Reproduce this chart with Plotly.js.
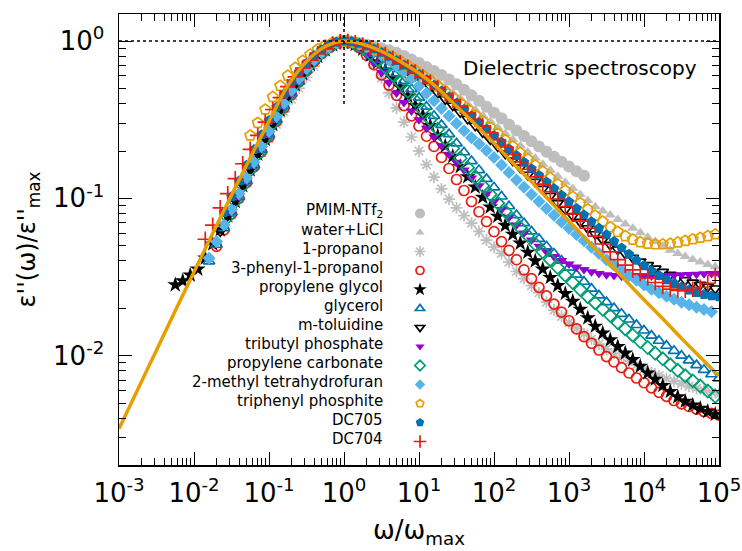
<!DOCTYPE html>
<html><head><meta charset="utf-8">
<script src="https://cdn.plot.ly/plotly-3.0.1.min.js"></script>
<style>html,body{margin:0;padding:0;background:#fff}</style>
</head><body><div id="chart" style="width:742px;height:551px"></div>
<script>
// log10(omega/omega_max) measurement grids
const logGridA = [-2.3,-2.2,-2.1,-2.0,-1.9,-1.8,-1.7,-1.6,-1.5,-1.4,-1.3,-1.2,-1.1,-1.0,-0.9,-0.8,-0.7,-0.6,-0.5,-0.4,-0.3,-0.2,-0.1,0.0,
  0.1,0.2,0.3,0.4,0.5,0.6,0.7,0.8,0.9,1.0,1.1,1.2,1.3,1.4,1.5,1.6,1.7,1.8,1.9,2.0,2.1,2.2,2.3,2.4,2.5,2.6,2.7,2.8,2.9,3.0,
  3.1,3.2,3.3,3.4,3.5,3.6,3.7,3.8,3.9,4.0,4.1,4.2,4.3,4.4,4.5,4.6,4.7,4.8,4.9,5.0];
const logGridB = [-2.25,-2.15,-2.05,-1.95,-1.85,-1.75,-1.65,-1.55,-1.45,-1.35,-1.25,-1.15,-1.05,-0.95,-0.85,-0.75,-0.65,-0.55,-0.45,-0.35,-0.25,-0.15,-0.05,
  0.05,0.15,0.25,0.35,0.45,0.55,0.65,0.75,0.85,0.95,1.05,1.15,1.25,1.35,1.45,1.55,1.65,1.75,1.85,1.95,2.05,2.15,2.25,2.35,2.45,2.55,2.65,2.75,2.85,2.95,
  3.05,3.15,3.25,3.35,3.45,3.55,3.65,3.75,3.85,3.95,4.05,4.15,4.25,4.35,4.45,4.55,4.65,4.75,4.85,4.95];

// log10(eps''/eps''_max) per liquid
const pmimY = [-0.55,-0.46,-0.375,-0.295,-0.22,-0.155,-0.10,-0.06,-0.03,-0.01,0,
  -0.004,-0.012,-0.022,-0.033,-0.045,-0.058,-0.075,-0.095,-0.117,-0.14,-0.165,-0.19,-0.215,-0.245,-0.275,-0.31,-0.345,-0.38,-0.418,-0.455,
  -0.49,-0.53,-0.568,-0.603,-0.637,-0.67,-0.703,-0.735,-0.767,-0.797,-0.827,-0.856];
const waterY = [-0.53,-0.44,-0.355,-0.28,-0.21,-0.15,-0.1,-0.058,-0.026,-0.005,
  -0.003,-0.012,-0.025,-0.04,-0.057,-0.076,-0.097,-0.12,-0.145,-0.172,-0.2,-0.23,-0.262,-0.295,-0.329,-0.364,-0.4,-0.437,-0.474,-0.512,
  -0.55,-0.588,-0.626,-0.665,-0.705,-0.744,-0.783,-0.821,-0.86,-0.898,-0.937,-0.975,-1.014,-1.053,-1.08,-1.106,-1.135,-1.163,-1.19,-1.218,
  -1.247,-1.275,-1.303,-1.33,-1.35,-1.37,-1.388,-1.405,-1.42,-1.435];
const propanolY = [-1.10,-1.0,-0.90,-0.80,-0.71,-0.62,-0.53,-0.45,-0.37,-0.30,-0.23,-0.16,-0.09,-0.045,-0.013,0,
  -0.012,-0.042,-0.09,-0.15,-0.235,-0.33,-0.425,-0.515,-0.61,-0.70,-0.785,-0.865,-0.94,-1.005,-1.06,-1.11,-1.158,-1.21,-1.265,-1.31,
  -1.35,-1.405,-1.465,-1.51,-1.555,-1.6,-1.66,-1.71,-1.75,-1.79,-1.827,-1.862,-1.895,-1.927,-1.957,-1.985,-2.01,-2.035,-2.06,-2.085,
  -2.107,-2.127,-2.145,-2.162,-2.178,-2.193,-2.207,-2.22,-2.232,-2.245];
const phenylY = [-1.305,-1.2,-1.1,-1.0,-0.9,-0.8,-0.705,-0.61,-0.51,-0.425,-0.34,-0.26,-0.19,-0.13,-0.08,-0.042,-0.013,0,
  -0.012,-0.042,-0.09,-0.15,-0.215,-0.28,-0.345,-0.41,-0.475,-0.54,-0.605,-0.67,-0.74,-0.81,-0.88,-0.95,-1.02,-1.085,-1.148,-1.212,
  -1.275,-1.33,-1.39,-1.454,-1.51,-1.566,-1.62,-1.672,-1.723,-1.778,-1.83,-1.879,-1.921,-1.964,-2.006,-2.04,-2.076,-2.11,-2.142,-2.172,
  -2.205,-2.233,-2.259,-2.285,-2.306,-2.323,-2.34,-2.355,-2.367,-2.378];
const pgY = [-1.55,-1.525,-1.488,-1.45,-1.38,-1.29,-1.2,-1.11,-1.02,-0.92,-0.82,-0.72,-0.625,-0.53,-0.44,-0.355,-0.278,-0.208,-0.148,-0.098,-0.057,-0.025,-0.005,
  -0.004,-0.022,-0.052,-0.09,-0.135,-0.185,-0.238,-0.293,-0.35,-0.41,-0.472,-0.538,-0.603,-0.668,-0.733,-0.798,-0.863,-0.928,-0.993,-1.055,
  -1.114,-1.172,-1.228,-1.285,-1.343,-1.398,-1.45,-1.503,-1.555,-1.605,-1.655,-1.705,-1.76,-1.813,-1.857,-1.9,-1.942,-1.984,-2.025,-2.068,
  -2.11,-2.15,-2.19,-2.228,-2.262,-2.29,-2.314,-2.335,-2.355,-2.373];
const glycerolY = [-1.40,-1.295,-1.19,-1.09,-0.99,-0.89,-0.79,-0.69,-0.595,-0.5,-0.413,-0.333,-0.258,-0.185,-0.125,-0.077,-0.04,-0.012,0,
  -0.006,-0.022,-0.048,-0.08,-0.118,-0.16,-0.205,-0.253,-0.305,-0.36,-0.417,-0.475,-0.533,-0.592,-0.65,-0.707,-0.763,-0.82,-0.876,-0.93,
  -0.988,-1.05,-1.106,-1.158,-1.21,-1.258,-1.305,-1.351,-1.396,-1.44,-1.485,-1.53,-1.574,-1.617,-1.66,-1.698,-1.734,-1.77,-1.805,-1.84,
  -1.873,-1.905,-1.937,-1.969,-2.0,-2.03,-2.06,-2.09,-2.118,-2.145];
const toluidineY = [-1.21,-1.11,-1.01,-0.91,-0.81,-0.71,-0.612,-0.517,-0.427,-0.347,-0.27,-0.202,-0.145,-0.097,-0.057,-0.026,-0.005,
  -0.003,-0.013,-0.03,-0.05,-0.073,-0.098,-0.125,-0.155,-0.187,-0.22,-0.255,-0.292,-0.33,-0.37,-0.41,-0.452,-0.495,-0.538,-0.58,-0.625,
  -0.67,-0.715,-0.76,-0.805,-0.85,-0.895,-0.94,-0.985,-1.03,-1.072,-1.112,-1.15,-1.19,-1.228,-1.264,-1.296,-1.325,-1.352,-1.378,-1.402,
  -1.425,-1.447,-1.467,-1.486,-1.504,-1.52,-1.536,-1.55,-1.562,-1.573];
const tbpY = [-1.09,-0.99,-0.89,-0.79,-0.69,-0.595,-0.5,-0.415,-0.335,-0.26,-0.19,-0.13,-0.08,-0.042,-0.012,0,
  -0.014,-0.045,-0.087,-0.14,-0.2,-0.265,-0.33,-0.39,-0.445,-0.5,-0.555,-0.61,-0.665,-0.72,-0.77,-0.82,-0.87,-0.92,-0.97,-1.02,
  -1.07,-1.12,-1.17,-1.22,-1.265,-1.305,-1.34,-1.37,-1.395,-1.418,-1.437,-1.453,-1.466,-1.477,-1.485,-1.491,-1.495,-1.497,-1.497,-1.496,
  -1.494,-1.492,-1.49,-1.488,-1.486,-1.484,-1.482,-1.48,-1.478,-1.476];
const pcY = [-1.12,-1.02,-0.92,-0.82,-0.72,-0.622,-0.527,-0.437,-0.355,-0.277,-0.207,-0.147,-0.097,-0.057,-0.026,-0.006,
  -0.004,-0.02,-0.045,-0.08,-0.12,-0.165,-0.215,-0.265,-0.32,-0.378,-0.44,-0.5,-0.56,-0.622,-0.683,-0.745,-0.805,-0.863,-0.92,-0.975,
  -1.03,-1.083,-1.135,-1.187,-1.237,-1.29,-1.34,-1.39,-1.44,-1.488,-1.535,-1.58,-1.625,-1.665,-1.705,-1.745,-1.79,-1.83,-1.87,-1.91,
  -1.948,-1.985,-2.02,-2.058,-2.093,-2.128,-2.16,-2.193,-2.225,-2.258];
const mthfY = [-1.38,-1.275,-1.17,-1.07,-0.97,-0.87,-0.77,-0.67,-0.575,-0.48,-0.395,-0.315,-0.24,-0.175,-0.12,-0.075,-0.04,-0.012,0,
  -0.005,-0.018,-0.038,-0.062,-0.09,-0.122,-0.158,-0.197,-0.24,-0.285,-0.332,-0.38,-0.428,-0.476,-0.524,-0.57,-0.615,-0.655,-0.695,-0.74,
  -0.788,-0.836,-0.884,-0.93,-0.975,-1.02,-1.065,-1.108,-1.15,-1.19,-1.23,-1.27,-1.31,-1.35,-1.39,-1.425,-1.46,-1.49,-1.52,-1.55,
  -1.577,-1.6,-1.622,-1.642,-1.66,-1.677,-1.692,-1.706,-1.72];
const tppY = [-0.60,-0.52,-0.435,-0.355,-0.285,-0.22,-0.17,-0.125,-0.085,-0.052,-0.027,-0.01,-0.002,
  -0.002,-0.01,-0.022,-0.037,-0.055,-0.077,-0.1,-0.127,-0.155,-0.185,-0.217,-0.25,-0.285,-0.32,-0.357,-0.395,-0.433,-0.472,-0.51,-0.55,
  -0.59,-0.63,-0.67,-0.71,-0.75,-0.79,-0.83,-0.87,-0.91,-0.95,-0.99,-1.03,-1.07,-1.11,-1.148,-1.183,-1.213,-1.24,-1.262,-1.278,
  -1.288,-1.292,-1.292,-1.288,-1.28,-1.27,-1.26,-1.25,-1.24,-1.228];
const dc705Y = [-1.09,-0.99,-0.89,-0.79,-0.69,-0.595,-0.505,-0.42,-0.34,-0.268,-0.2,-0.142,-0.094,-0.056,-0.027,-0.008,0,
  -0.004,-0.014,-0.03,-0.05,-0.072,-0.097,-0.124,-0.152,-0.181,-0.212,-0.246,-0.281,-0.318,-0.356,-0.395,-0.435,-0.476,-0.518,-0.56,-0.602,
  -0.644,-0.686,-0.728,-0.77,-0.812,-0.854,-0.896,-0.938,-0.98,-1.022,-1.064,-1.106,-1.148,-1.19,-1.232,-1.274,-1.315,-1.355,-1.393,-1.428,
  -1.46,-1.49,-1.517,-1.542,-1.564,-1.583,-1.599,-1.611,-1.62,-1.626];
const dc704Y = [-1.26,-1.17,-1.06,-0.97,-0.875,-0.78,-0.688,-0.6,-0.515,-0.435,-0.36,-0.29,-0.228,-0.172,-0.122,-0.08,-0.045,-0.02,-0.004,
  -0.002,-0.01,-0.025,-0.042,-0.062,-0.085,-0.11,-0.137,-0.166,-0.196,-0.228,-0.262,-0.298,-0.336,-0.375,-0.415,-0.456,-0.498,-0.54,-0.583,
  -0.626,-0.673,-0.72,-0.768,-0.815,-0.863,-0.91,-0.958,-1.005,-1.053,-1.1,-1.145,-1.19,-1.24,-1.29,-1.34,-1.39,-1.425,-1.455,-1.48,
  -1.505,-1.535,-1.56,-1.577,-1.585,-1.585,-1.578,-1.565,-1.54,-1.49];

// model curve (orange line)
const modelLogX = [-3,-2.75,-2.5,-2.25,-2,-1.75,-1.5,-1.25,-1,-0.75,-0.5,-0.25,0,0.25,0.5,0.75,1,1.25,1.5,1.75,2,2.25,2.5,2.75,3,3.25,3.5,3.75,4,4.25,4.5,4.75,5];
const modelLogY = [-2.465,-2.215,-1.965,-1.715,-1.468,-1.222,-0.98,-0.742,-0.51,-0.285,-0.13,-0.035,0,-0.02,-0.065,-0.13,-0.205,-0.30,-0.415,-0.53,-0.65,-0.775,-0.895,-1.02,-1.145,-1.27,-1.395,-1.52,-1.645,-1.765,-1.89,-2.01,-2.13];

const seriesNames = ['PMIM-NTf<sub>2</sub>','water+LiCl','1-propanol','3-phenyl-1-propanol','propylene glycol','glycerol','m-toluidine',
  'tributyl phosphate','propylene carbonate','2-methyl tetrahydrofuran','triphenyl phosphite','DC705','DC704'];
const seriesData = [pmimY, waterY, propanolY, phenylY, pgY, glycerolY, toluidineY, tbpY, pcY, mthfY, tppY, dc705Y, dc704Y];
const seriesGrid = ['A','B','A','A','B','A','B','A','B','A','B','A','B'];
const seriesStart = [-1.0,-0.95,-1.5,-1.7,-2.25,-1.8,-1.65,-1.5,-1.55,-1.8,-1.25,-1.6,-1.85];

const tickVals = [1e-3,1e-2,1e-1,1e0,1e1,1e2,1e3,1e4,1e5];
const xTickText = ['10<sup>-3</sup>','10<sup>-2</sup>','10<sup>-1</sup>','10<sup>0</sup>','10<sup>1</sup>','10<sup>2</sup>','10<sup>3</sup>','10<sup>4</sup>','10<sup>5</sup>'];
const yTickVals = [1e-2,1e-1,1e0];
const yTickText = ['10<sup>-2</sup>','10<sup>-1</sup>','10<sup>0</sup>'];

// marker styles (size on plot, size in legend)
const styles = [
  {symbol:'circle', size:12, lsize:10, color:'#bebebe', open:false},
  {symbol:'triangle-up', size:10, lsize:8, color:'#bebebe', open:false},
  {symbol:'asterisk-open', size:10, lsize:9, color:'#bebebe', open:true},
  {symbol:'circle-open', size:10, lsize:8, color:'#e51e10', open:true},
  {symbol:'star', size:12, lsize:10, color:'#000000', open:false},
  {symbol:'triangle-up-open', size:10, lsize:8, color:'#0072b2', open:true},
  {symbol:'triangle-down-open', size:10, lsize:8, color:'#000000', open:true},
  {symbol:'triangle-down', size:10, lsize:8, color:'#9400d3', open:false},
  {symbol:'diamond-open', size:10, lsize:8, color:'#009e73', open:true},
  {symbol:'diamond', size:10, lsize:8, color:'#56b4e9', open:false},
  {symbol:'pentagon-open', size:11, lsize:8, color:'#e69f00', open:true},
  {symbol:'pentagon', size:11, lsize:9, color:'#0072b2', open:false},
  {symbol:'cross-thin-open', size:11, lsize:9, color:'#e51e10', open:true}
];

const p10 = v => Math.pow(10, v);
const mk = (st, sz) => st.open
  ? {symbol: st.symbol, size: sz, color: st.color, line:{color: st.color, width: 1.7}}
  : {symbol: st.symbol, size: sz, color: st.color, line:{width:0}};
const traces = [];
seriesData.forEach((ys, i) => {
  const grid = seriesGrid[i] === 'A' ? logGridA : logGridB;
  const idx = grid.findIndex(g => Math.abs(g - seriesStart[i]) < 1e-6);
  const xs = grid.slice(idx, idx + ys.length);
  traces.push({
    type:'scatter', mode:'markers', name: seriesNames[i], showlegend:false,
    x: xs.map(p10), y: ys.map(p10), marker: mk(styles[i], styles[i].size)
  });
});
traces.push({
  type:'scatter', mode:'lines', name:'model', showlegend:false,
  x: modelLogX.map(p10), y: modelLogY.map(p10),
  line:{color:'#e69f00', width:3.5, shape:'spline'}
});
// legend-only entries (symbols only; names are drawn as right-aligned labels)
styles.forEach((st, i) => {
  traces.push({type:'scatter', mode:'markers', name:'', x:[null], y:[null], showlegend:true,
    legendrank: i + 1, marker: mk(st, st.lsize)});
});

// minor tick positions (2..9 within each decade)
const minorX = [], minorY = [];
for (let d = -3; d < 5; d++) for (let m = 2; m <= 9; m++) minorX.push(m * Math.pow(10, d));
for (let d = -3; d < 1; d++) for (let m = 2; m <= 9; m++) minorY.push(m * Math.pow(10, d));

const FONT = 'DejaVu Sans, sans-serif';
const rowH = 19, firstRowPx = 211;
const annotations = seriesNames.map((n, i) => ({
  xref:'paper', yref:'paper', x:(385-119)/600, xanchor:'right',
  y:(465 - (firstRowPx + i*rowH))/451, yanchor:'middle',
  text:n, showarrow:false, font:{family:FONT, size:15, color:'#000'}
}));
annotations.push({xref:'paper', yref:'paper', x:(699-119)/600, xanchor:'right', y:(465-68)/451, yanchor:'middle',
  text:'Dielectric spectroscopy', showarrow:false, font:{family:FONT, size:20, color:'#000'}});

const axisCommon = {
  type:'log', showgrid:false, zeroline:false, showline:true, linecolor:'#000', linewidth:1.5,
  mirror:'allticks', ticks:'inside', ticklen:13, tickwidth:1, tickcolor:'#000', tickmode:'array',
  tickfont:{family:FONT, size:26, color:'#000'},
  minor:{ticks:'inside', ticklen:7, tickwidth:1, tickcolor:'#000', tickmode:'array', showgrid:false}
};

const layout = {
  width:742, height:551, margin:{l:119, r:23, t:14, b:86},
  paper_bgcolor:'#fff', plot_bgcolor:'#fff', font:{family:FONT, color:'#000'},
  showlegend:true,
  legend:{x:(400-119)/600, xanchor:'left', y:(465-199)/451, yanchor:'top', bgcolor:'rgba(0,0,0,0)',
    font:{size:10, family:FONT, color:'#000'}, tracegroupgap:0, itemwidth:30, traceorder:'normal'},
  xaxis: Object.assign({}, axisCommon, {range:[-3,5], tickvals:tickVals, ticktext:xTickText, ticklabelstandoff:4,
    minor: Object.assign({}, axisCommon.minor, {tickvals:minorX}),
    title:{text:'ω/ω<sub>max</sub>', font:{family:FONT, size:26, color:'#000'}, standoff:14}}),
  yaxis: Object.assign({}, axisCommon, {range:[-2.695,0.172], tickvals:yTickVals, ticktext:yTickText, ticklabelstandoff:8,
    minor: Object.assign({}, axisCommon.minor, {tickvals:minorY}),
    title:{text:"ε''(ω)/ε''<sub>max</sub>", font:{family:FONT, size:24, color:'#000'}, standoff:10}}),
  shapes:[
    {type:'line', xref:'paper', yref:'y', x0:0, x1:1, y0:1, y1:1, line:{color:'#000', width:1.5, dash:'dot'}},
    {type:'line', xref:'x', yref:'paper', x0:1, x1:1, y0:(465-104)/451, y1:1, line:{color:'#000', width:1.5, dash:'dot'}}
  ],
  annotations: annotations
};

Plotly.newPlot('chart', traces, layout, {displayModeBar:false, staticPlot:true});
</script></body></html>
